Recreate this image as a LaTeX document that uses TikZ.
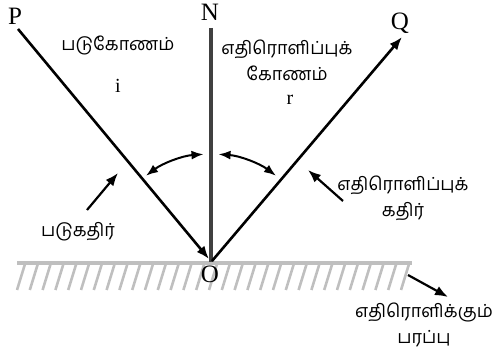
\documentclass[tikz,border=0pt]{standalone}
\usepackage{fontspec}
\setmainfont{Liberation Serif}
\newfontfamily\tamil[Script=Tamil]{Hind Madurai}
\usetikzlibrary{arrows.meta}
\tikzset{
  ray/.style={line width=2.6pt,-{Latex[length=13pt,width=10pt]}},
  pointer/.style={line width=2.2pt,-{Latex[length=13pt,width=10pt]}},
  anglearc/.style={line width=2pt,{Latex[length=12pt,width=9pt]}-{Latex[length=12pt,width=9pt]}},
  hatch/.style={gray!50,line width=2.6pt},
  latin/.style={font=\fontsize{25}{27}\selectfont},
  tlabel/.style={font=\tamil\fontsize{18}{26}\selectfont,align=center}
}
\begin{document}
\begin{tikzpicture}[x=1pt,y=1pt]
\useasboundingbox (0,0) rectangle (495,353);
% reflecting surface
\draw[gray!50,line width=4pt] (17,90) -- (412,90);
\foreach \x in {25,37.8,...,412}{
  \draw[hatch] (\x,89) -- ++(-8,-26);
}
\coordinate (O) at (211,91);
\coordinate (Pend) at (18,324);
\coordinate (Ntop) at (211,325);
\coordinate (Qend) at (402,316);
% normal and rays
\draw[black!75,line width=3.4pt] (Ntop) -- (O);
\draw[ray] (Pend) -- ([shift={(-2,3)}]O);
\draw[ray] ([shift={(1,1)}]O) -- (Qend);
% angles
\draw[anglearc] ([shift={(127:108)}]O) arc (127:94:108);
\draw[anglearc] ([shift={(86:108)}]O) arc (86:53:108);
% labels
\node[latin] (P) at (15,337) {P};
\node[latin] (N) at (210,341) {N};
\node[latin] (Q) at (400,330) {Q};
\node[latin] (Olab) at (210,79) {O};
\node[tlabel] (inc) at (118,308) {படுகோணம்};
\node[latin,font=\fontsize{20}{22}\selectfont] (i) at (118,267) {i};
\node[tlabel] (refl) at (287,293) {எதிரொளிப்புக்\\கோணம்};
\node[latin,font=\fontsize{20}{22}\selectfont] (r) at (290,253) {r};
\node[tlabel] (incray) at (78,121) {படுகதிர்};
\node[tlabel] (reflray) at (403,155) {எதிரொளிப்புக்\\கதிர்};
\node[tlabel] (surf) at (424,28) {எதிரொளிக்கும்\\பரப்பு};
% pointers
\coordinate (a1) at (87,143);
\coordinate (a2) at (118,180);
\draw[pointer] (a1) -- (a2);
\coordinate (b1) at (343,152);
\coordinate (b2) at (308,183);
\draw[pointer] (b1) -- (b2);
\coordinate (c1) at (408,78);
\coordinate (c2) at (448,56);
\draw[pointer] (c1) -- (c2);
\end{tikzpicture}
\end{document}
